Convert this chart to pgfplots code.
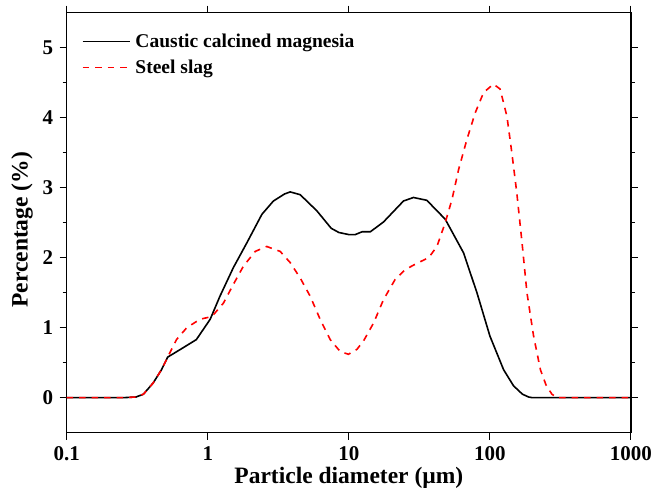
\documentclass[border=0pt]{standalone}
\usepackage{fontspec}
\setmainfont{Liberation Serif}
\usepackage{pgfplots}
\pgfplotsset{compat=1.18}
\begin{document}
\begin{tikzpicture}[font=\bfseries]
\useasboundingbox (-66.7pt,-59.3pt) rectangle (584.3pt,432.7pt);
\begin{axis}[
  at={(0pt,0pt)}, anchor=south west,
  scale only axis, width=564.3pt, height=420pt,
  xmode=log, xmin=0.1, xmax=1000, ymin=-0.5, ymax=5.5,
  log basis x=10,
  xtick={0.1,1,10,100,1000},
  xticklabels={0.1,1,10,100,1000},
  ytick={0,1,2,3,4,5},
  yticklabels={0,1,2,3,4,5},
  minor y tick num=1,
  tick align=outside,
  major tick length=7pt, minor tick length=4pt,
  every tick/.style={black, line width=1pt},
  axis line style={line width=1.3pt},
  tick label style={font=\fontsize{21}{21}\selectfont\bfseries},
  xticklabel style={yshift=-3pt},
  yticklabel style={xshift=-3pt},
  xlabel={Particle diameter (\textmu m)},
  ylabel={Percentage (\%)},
  label style={font=\fontsize{23.5}{23.5}\selectfont\bfseries},
  xlabel style={at={(axis description cs:0.5,0)}, anchor=center, yshift=-45pt},
  ylabel style={at={(axis description cs:-0.079,0.483)}, anchor=center},
  legend style={at={(axis description cs:0,1)}, anchor=north west, xshift=12pt, yshift=-18pt,
    draw=none, fill=none, font=\fontsize{19.5}{19.5}\selectfont\bfseries, row sep=9pt,
    nodes={inner sep=1pt}},
  legend cell align=left,
  /tikz/every odd column/.append style={column sep=4pt},
  legend image code/.code={\draw[#1, line width=1.6pt] (0pt,0pt) -- (47pt,0pt);},
]
\addplot[black, line width=1.6pt] coordinates {
(0.1,0) (0.25,0) (0.31,0.01) (0.35,0.05) (0.41,0.21) (0.47,0.40) (0.52,0.58)
(0.64,0.69) (0.83,0.83) (1.04,1.12) (1.22,1.45) (1.52,1.86) (1.89,2.21)
(2.42,2.62) (2.92,2.81) (3.5,2.91) (3.84,2.94) (4.52,2.90) (5.93,2.67)
(7.5,2.42) (8.5,2.36) (10,2.33) (11.1,2.33) (12.4,2.37) (14.2,2.37)
(17.6,2.51) (24.4,2.81) (28.7,2.86) (35.7,2.82) (48.2,2.55) (65,2.07)
(80.9,1.50) (100,0.88) (125,0.40) (147,0.17) (170,0.05) (188,0.01) (200,0) (1000,0)
};
\addlegendentry{Caustic calcined magnesia}
\addplot[red, line width=1.6pt, dash pattern=on 6.5pt off 6pt] coordinates {
(0.1,0) (0.25,0) (0.31,0.01) (0.35,0.05) (0.41,0.21) (0.47,0.40) (0.52,0.58)
(0.60,0.83) (0.71,1.00) (0.88,1.12) (1.07,1.16) (1.29,1.35) (1.52,1.62)
(1.79,1.88) (2.17,2.09) (2.62,2.16) (3.26,2.09) (3.84,1.93) (4.52,1.71)
(5.32,1.45) (6.26,1.12) (7.38,0.83) (8.68,0.66) (9.93,0.62) (11.4,0.69)
(12.7,0.81) (15,1.07) (17.6,1.40) (21.3,1.69) (25.1,1.83) (30.4,1.92)
(36.8,2.00) (42.1,2.16) (48.2,2.50) (53.8,2.83) (60,3.26) (68.7,3.69)
(78.7,4.07) (90.2,4.36) (106,4.48) (118,4.41) (132,4.02) (143,3.50)
(155,2.93) (169,2.21) (183,1.50) (204,0.88) (228,0.40) (250,0.18)
(275,0.05) (300,0) (1000,0)
};
\addlegendentry{Steel slag}
\end{axis}
\end{tikzpicture}
\end{document}
